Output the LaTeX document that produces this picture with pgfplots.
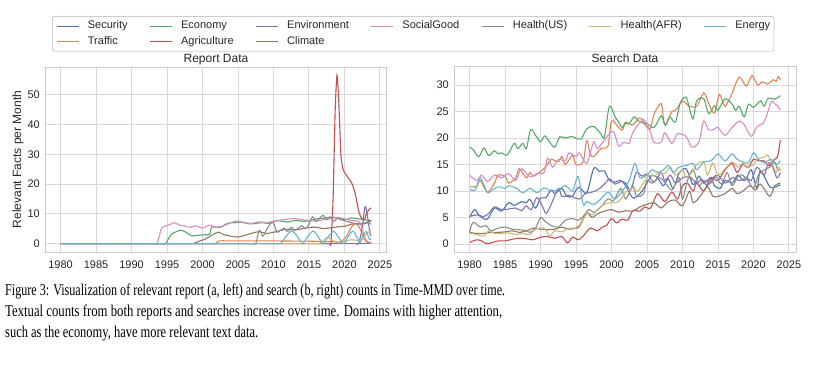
\documentclass[border=0pt]{standalone}
\usepackage{pgfplots}
\pgfplotsset{compat=1.18}
\usepackage{fontspec}
\setmainfont{Liberation Sans}
\newfontfamily\capfont{Liberation Serif}
\usepackage{graphicx}

\definecolor{cSec}{HTML}{4C72B0}
\definecolor{cTra}{HTML}{DD8452}
\definecolor{cEco}{HTML}{55A868}
\definecolor{cAgr}{HTML}{C44E52}
\definecolor{cEnv}{HTML}{8172B3}
\definecolor{cCli}{HTML}{937860}
\definecolor{cSoc}{HTML}{DA8BC3}
\definecolor{cHus}{HTML}{8C8C8C}
\definecolor{cHaf}{HTML}{CCB974}
\definecolor{cEne}{HTML}{64B5CD}
\definecolor{gridc}{HTML}{D9D9D9}
\definecolor{framec}{HTML}{CCCCCC}
\definecolor{tickc}{HTML}{262626}

\pgfplotsset{
  every axis title shift=0pt,
  common/.style={
    scale only axis, width=342pt, height=185pt,
    xmin=1977.8, xmax=2026.0,
    xtick={1980,1985,...,2025},
    grid=major,
    major grid style={color=gridc, line width=0.9pt},
    axis line style={color=framec, line width=1pt},
    major tick length=0pt,
    /pgf/number format/1000 sep={},
    /pgf/number format/assume math mode=true,
    tick label style={font=\fontsize{11}{13}\selectfont, text=tickc},
    xticklabel style={anchor=base, yshift=-16pt},
    yticklabel style={anchor=east, inner sep=0pt, xshift=-5pt},
    title style={at={(axis description cs:0.5,1)}, anchor=base, yshift=4.5pt, font=\fontsize{12}{14}\selectfont, text=tickc},
    every axis plot/.append style={line width=1.1pt, smooth},
  },
  limg/.style={legend image code/.code={\draw[#1, line width=1.1pt] (0pt,0pt) -- (22pt,0pt);}},
}

\begin{document}
\begin{tikzpicture}
\useasboundingbox (0pt,0pt) rectangle (832pt,-364pt);

% ---------------- Report Data ----------------
\begin{axis}[common,
  at={(45pt,-252pt)}, anchor=south west,
  ymin=-2.83, ymax=59.3, ytick={0,10,20,30,40,50},
  title={Report Data},
  ylabel={Relevant Facts per Month},
  ylabel style={at={(axis description cs:-0.079,0.5)}, anchor=center, font=\fontsize{12}{14}\selectfont, text=tickc},
  legend columns=7,
  legend cell align=left,
  legend style={at={(axis description cs:0.0205,1.2757)}, anchor=north west,
    draw=framec, line width=0.8pt, fill=white, rounded corners=2pt,
    inner xsep=3.7pt, inner ysep=4.5pt,
    font=\fontsize{11}{13}\selectfont, text=tickc,
    nodes={inner sep=0pt, text height=8pt, text depth=2.5pt},
    row sep=4.8pt,
    /tikz/every odd column/.append style={column sep=8.7pt},
    /tikz/every even column/.append style={column sep=21.7pt}},
]
\addlegendimage{legend image code/.code={\draw[cSec, line width=1.1pt] (0pt,0pt) -- (22pt,0pt);}}
\addlegendimage{legend image code/.code={\draw[cEco, line width=1.1pt] (0pt,0pt) -- (22pt,0pt);}}
\addlegendimage{legend image code/.code={\draw[cEnv, line width=1.1pt] (0pt,0pt) -- (22pt,0pt);}}
\addlegendimage{legend image code/.code={\draw[cSoc, line width=1.1pt] (0pt,0pt) -- (22pt,0pt);}}
\addlegendimage{legend image code/.code={\draw[cHus, line width=1.1pt] (0pt,0pt) -- (22pt,0pt);}}
\addlegendimage{legend image code/.code={\draw[cHaf, line width=1.1pt] (0pt,0pt) -- (22pt,0pt);}}
\addlegendimage{legend image code/.code={\draw[cEne, line width=1.1pt] (0pt,0pt) -- (22pt,0pt);}}
\addlegendimage{legend image code/.code={\draw[cTra, line width=1.1pt] (0pt,0pt) -- (22pt,0pt);}}
\addlegendimage{legend image code/.code={\draw[cAgr, line width=1.1pt] (0pt,0pt) -- (22pt,0pt);}}
\addlegendimage{legend image code/.code={\draw[cCli, line width=1.1pt] (0pt,0pt) -- (22pt,0pt);}}
\legend{Security,Economy,Environment,SocialGood,Health(US),Health(AFR),Energy,Traffic,Agriculture,Climate}

\addplot[cSec, forget plot] coordinates {(1980,0)(2000,0)(2023.8,0)};
\addplot[cTra, forget plot] coordinates {(1980,0)(2000,0)(2001.2,0)(2001.8,0)(2002.4,0.9)(2003.5,0.9)(2005,0.9)(2007,0.9)(2010,0.9)(2012.5,0.85)(2015,0.8)(2017,0.7)(2018.5,0.6)(2019.5,0.6)(2020.3,2.5)(2021,5.5)(2021.6,6.8)(2022.2,5)(2022.8,1.5)(2023.3,0.3)(2023.8,0.3)};
\addplot[cEco, forget plot] coordinates {(1980,0)(1993,0)(1994.2,0)(1994.8,0)(1995.5,2.8)(1996.2,3.9)(1997,4.5)(1997.8,3.6)(1998.5,2.6)(1999.5,2.8)(2000.5,3.0)(2001.0,3.1)(2001.3,5.5)(2002,5.5)(2002.7,5.6)(2003.5,6.8)(2004.5,7.0)(2005.5,7.2)(2006.5,6.6)(2007.5,6.8)(2008.5,7.0)(2009.3,6.8)(2010,7.5)(2011,7.6)(2012,7.2)(2013,7.8)(2014,7.5)(2015,7.6)(2016,8.3)(2017,8.5)(2018,8.8)(2019,8.6)(2020,8.0)(2021,8.6)(2022,8.3)(2023,7.9)(2023.8,7.8)};
\addplot[cAgr, forget plot, tension=0.35] coordinates {(1980,0)(2016,0)(2017.5,0)(2017.9,0)(2018.1,0)(2018.4,15)(2018.7,45)(2018.95,56.5)(2019.2,48)(2019.5,30)(2019.8,25)(2020.4,22.5)(2021.0,20.5)(2021.5,17)(2022.0,11)(2022.4,8.5)(2022.8,8.0)(2023.1,10)(2023.5,11.5)(2023.8,12)};
\addplot[cEnv, forget plot] coordinates {(1980,0)(2020,0)(2021.2,0)(2021.7,0)(2022.0,0)(2022.5,5)(2022.9,12.3)(2023.2,10)(2023.6,3.5)(2023.8,2.5)};
\addplot[cCli, forget plot] coordinates {(1980,0)(1996,0)(1997.5,0)(1998.1,0)(1998.7,0)(1999.5,0.8)(2000.4,1.5)(2001.3,2.8)(2002.2,3.8)(2003,3.0)(2004,2.5)(2005,2.2)(2006,2.8)(2007,3.5)(2008,4.0)(2009,3.4)(2010,3.8)(2011,4.4)(2012,4.8)(2013,4.5)(2014,5.0)(2015,5.4)(2016,5.5)(2017,5.0)(2018,5.3)(2019,5.6)(2020,5.8)(2021,6.5)(2022,6.8)(2022.8,6.6)(2023.3,7.3)(2023.8,7.5)};
\addplot[cSoc, forget plot] coordinates {(1980,0)(1991,0)(1992.4,0)(1993.0,0)(1993.6,0)(1994.2,5.0)(1994.7,5.8)(1995.5,6.5)(1996,7.0)(1996.8,6.2)(1997.5,5.9)(1998.3,5.4)(1999,6.0)(2000,5.2)(2001,6.2)(2002,5.5)(2003,6.0)(2004,7.0)(2005,7.6)(2006,7.0)(2007,6.8)(2008,7.3)(2009,7.0)(2010,7.5)(2011,7.9)(2012,8.2)(2013,8.4)(2014,8.0)(2015,7.8)(2016,7.5)(2017,8.0)(2018,8.3)(2019,8.8)(2020,8.3)(2021,7.7)(2022,7.5)(2022.5,5)(2023.0,1.2)(2023.4,0.5)(2023.8,0.5)};
\addplot[cHus, forget plot] coordinates {(1980,0)(2005,0)(2006.3,0)(2006.9,0)(2007.5,0)(2008,4.5)(2008.5,2.5)(2009,4.5)(2009.5,6.5)(2010,7.0)(2010.5,3.8)(2011,4.5)(2011.5,5.2)(2012,4.0)(2012.5,5.5)(2013,4.5)(2013.5,5.2)(2014,6.0)(2014.5,5.0)(2015,6.5)(2015.5,9.0)(2016,7.5)(2016.5,8.5)(2017,9.5)(2017.5,8.0)(2018,9.0)(2018.5,7.5)(2019,8.5)(2019.5,8.0)(2020.3,7.5)(2021,7)(2022,6.5)(2023,7)(2023.8,6.5)};
\addplot[cHaf, forget plot] coordinates {(1980,0)(2014,0)(2015.3,0)(2015.9,0)(2016.5,0)(2017.2,1.5)(2017.8,2.0)(2018.4,1.0)(2019.2,0.4)(2020,0.8)(2021,1.3)(2022,1.0)(2022.6,1.6)(2023.2,3.5)(2023.8,4.5)};
\addplot[cEne, forget plot] coordinates {(1980,0)(2008.5,0)(2009.8,0)(2010.4,0)(2011.0,0)(2011.8,2.5)(2012.6,4.2)(2013.4,2.3)(2014.1,0)(2014.8,2.3)(2015.6,4.2)(2016.3,2.3)(2017.0,0)(2017.7,2.3)(2018.5,4.1)(2019.2,2.0)(2019.9,0)(2020.5,2.2)(2021.2,4.2)(2021.8,2)(2022.2,0.3)(2022.6,2.5)(2023.1,4.0)(2023.5,1.5)(2023.8,1.6)};
\end{axis}

% ---------------- Search Data ----------------
\begin{axis}[common,
  at={(454pt,-252pt)}, anchor=south west,
  ymin=-1.5, ymax=33.4, ytick={0,5,10,15,20,25,30},
  title={Search Data},
]
\addplot[cSec] coordinates {(1980,5.0)(1980.7,6.5)(1981.5,5.2)(1982.5,4.7)(1983.5,6.8)(1984.5,6.2)(1985.5,7.8)(1986.3,7.3)(1987.3,8.0)(1988,7.8)(1988.5,8.4)(1989.3,6.8)(1990,8.7)(1990.7,8.7)(1991.5,10.2)(1992,9.5)(1993,10.5)(1993.7,9.0)(1994.5,9.0)(1995,10.2)(1995.5,10.7)(1996.5,9.7)(1997.5,14.3)(1998.3,13.7)(1999,13.8)(1999.7,12.0)(2000.5,11.7)(2001.3,12.0)(2002,11.0)(2003,8.7)(2004,9.5)(2005,11.5)(2005.7,13.0)(2006.5,12.5)(2007.3,11.0)(2008,12.3)(2008.7,10.5)(2009.5,13.3)(2010.5,14.2)(2011.5,11.2)(2012.3,12.8)(2013,11.5)(2014,12.5)(2014.5,11.0)(2015.3,10.5)(2016,12.0)(2017,11.5)(2017.8,13.0)(2018.5,12.0)(2019,12.3)(2019.7,14.0)(2020.5,10.5)(2021,13.8)(2022.3,10.8)(2023,10.7)(2023.8,11.2)};
\addplot[cTra] coordinates {(1980,10.8)(1981,10.9)(1981.5,12.0)(1982.5,9.8)(1983.5,11.5)(1984,13.0)(1985,12.8)(1985.5,11.5)(1986.5,12.5)(1987,14.2)(1988,12.5)(1988.5,13.5)(1989,12.8)(1990,13.7)(1991,15.0)(1991.5,16.0)(1992.5,15.5)(1993,16.5)(1993.5,15.0)(1994.5,16.7)(1995,15.0)(1996,15.5)(1996.5,19.5)(1997,17.0)(1997.5,16.5)(1998.5,18.0)(1999.5,18.5)(2000,23.2)(2001,22.0)(2001.5,21.5)(2002,22.8)(2003,22.5)(2004,23.8)(2005,22.0)(2005.5,21.8)(2006,24.5)(2007,26.5)(2007.5,22.5)(2008.5,25.0)(2009,25.2)(2010,27.0)(2010.5,26.5)(2011,26.0)(2012,26.0)(2013,28.5)(2013.7,26.5)(2014.5,24.7)(2015.2,28.2)(2016,26.0)(2017,28.5)(2018,31.5)(2019,29.8)(2019.8,31.8)(2020.6,30.0)(2021.2,30.6)(2022,30.2)(2022.8,31.0)(2023.2,30.7)(2023.5,31.6)(2023.8,31.0)};
\addplot[cEco] coordinates {(1980,18.3)(1980.5,17.8)(1981.3,16.5)(1982,18.1)(1982.7,16.7)(1983.5,17.6)(1984,17.0)(1984.5,17.2)(1985.3,16.8)(1986.3,19.0)(1986.8,18.0)(1987.5,19.0)(1988,18.0)(1988.6,21.6)(1989.3,20.5)(1990,19.3)(1990.6,20.4)(1991.3,19.2)(1992,18.3)(1992.7,20.2)(1993.5,20.0)(1994.3,20.3)(1995,20.0)(1995.7,19.8)(1996.5,21.7)(1997.5,22.2)(1998.5,20.8)(1999,20.2)(1999.7,26.0)(2000.5,24.0)(2001,23.0)(2001.5,22.0)(2002,23.0)(2002.5,22.7)(2003.2,24.0)(2004,23.0)(2005,22.7)(2006,22.0)(2007,24.2)(2007.6,22.4)(2008.2,24.0)(2009,23.0)(2009.7,26.7)(2010.5,27.7)(2011,25.5)(2011.5,23.6)(2012,27.0)(2013,27.4)(2013.7,24.6)(2014.5,26.1)(2015,25.2)(2016,27.4)(2017,26.4)(2017.5,25.2)(2018,26.0)(2018.7,24.0)(2019.3,26.4)(2020,25.8)(2021,27.0)(2021.5,26.0)(2022,27.4)(2022.5,27.5)(2023,27.3)(2023.4,27.6)(2023.8,28.0)};
\addplot[cAgr] coordinates {(1980,0.3)(1981,0.8)(1981.7,0.6)(1982.3,0.1)(1983.3,0.3)(1984,0.6)(1985,0.6)(1986,0.9)(1987,1.1)(1988,1.0)(1989,0.8)(1990,1.3)(1991,1.4)(1992,1.1)(1993,1.4)(1993.8,0.2)(1994.5,1.3)(1995.3,0.8)(1996,1.5)(1997,3.0)(1998,2.5)(1998.7,3.2)(1999.3,3.5)(2000,4.8)(2000.7,4.0)(2001.5,4.7)(2002.3,4.5)(2003,6.3)(2004,6.2)(2004.7,7.0)(2005.5,6.8)(2006.5,9.5)(2007.5,8.0)(2008.5,9.8)(2009.3,8.5)(2010,11.0)(2010.7,11.5)(2011.5,10.0)(2012,11.5)(2013,10.0)(2014,12.5)(2015,12.0)(2016,14.0)(2017,15.2)(2017.7,13.5)(2018.5,15.0)(2019.3,14.5)(2020,16.0)(2020.7,15.7)(2021.5,15.7)(2022.2,14.8)(2023,16.0)(2023.4,16.5)(2023.8,19.6)};
\addplot[cEnv] coordinates {(1980,5.2)(1981,5.5)(1982,5.2)(1982.7,5.8)(1983.5,7.0)(1984.5,6.5)(1985.5,6.6)(1986.5,6.8)(1987.3,6.3)(1988,7.2)(1988.7,6.5)(1989.5,8.8)(1990.3,7.0)(1990.8,5.8)(1991.5,7.5)(1992.5,10.5)(1993,9.0)(1994,9.2)(1994.7,8.8)(1995.5,8.5)(1996.3,9.5)(1997,9.7)(1998,10.2)(1999,11.3)(1999.7,12.3)(2000.5,11.3)(2001.3,11.8)(2002,11.5)(2002.7,10.2)(2003.5,13.5)(2004.3,12.8)(2005,13.2)(2006,11.7)(2007,13.5)(2007.5,12.0)(2008.3,13.0)(2009,11.5)(2010,12.5)(2011,12.7)(2012,11.5)(2012.7,12.2)(2013.5,11.0)(2014.3,12.5)(2015,13.0)(2016,11.5)(2017,12.5)(2018,12.0)(2019,12.5)(2019.7,12.0)(2020.5,14.5)(2021.5,13.0)(2022,15.0)(2022.5,15.2)(2023.3,12.5)(2023.8,13.5)};
\addplot[cCli] coordinates {(1980,2.2)(1981,2.0)(1982,2.0)(1983,2.2)(1984,2.2)(1985,2.3)(1986,2.5)(1987,2.2)(1988,2.5)(1989,3.0)(1990,2.8)(1991,2.7)(1992,2.8)(1993,3.2)(1994,2.8)(1995,3.0)(1995.5,3.5)(1996.5,5.8)(1997.3,5.0)(1998,5.7)(1999,6.2)(2000,6.5)(2001,6.0)(2002,6.3)(2003,6.2)(2004,7.0)(2005,7.5)(2006,7.8)(2007,6.8)(2008,8.0)(2009,8.3)(2010,7.2)(2011,10.0)(2011.5,7.8)(2012.5,9.0)(2013.5,10.8)(2014.3,9.0)(2015,9.0)(2016,9.5)(2017,10.5)(2017.7,9.5)(2018.5,10.0)(2019.5,11.0)(2020.3,10.2)(2021,11.3)(2022.3,9.0)(2023,11.0)(2023.8,11.5)};
\addplot[cSoc] coordinates {(1980,13.0)(1981,12.0)(1981.7,13.0)(1982.5,11.8)(1983.5,13.0)(1984.5,12.5)(1985.5,13.3)(1986.5,12.0)(1987.3,14.2)(1988.5,12.7)(1989.5,13.3)(1990.5,13.5)(1991,16.2)(1991.7,14.5)(1992.5,16.0)(1993.5,15.7)(1994,17.2)(1995,16.5)(1995.5,17.2)(1996.5,15.2)(1997.5,19.3)(1998,18.0)(1999.5,20.5)(2000.3,21.2)(2001,18.5)(2001.7,19.2)(2002.5,19.0)(2003,21.0)(2004.5,23.5)(2005.5,21.0)(2006,19.2)(2007,19.2)(2007.5,21.0)(2008.5,19.0)(2009.3,20.8)(2010.5,20.3)(2011.3,18.3)(2012.3,19.2)(2013,23.2)(2013.7,21.5)(2014.5,21.7)(2015,22.0)(2016,20.5)(2017,22.0)(2018,23.2)(2018.7,22.5)(2019.7,20.3)(2020.5,22.2)(2021.5,23.0)(2022.5,26.7)(2023,26.5)(2023.4,26.0)(2023.8,25.3)};
\addplot[cHus] coordinates {(1980,2.3)(1980.5,4.1)(1981.5,3.2)(1982.3,3.5)(1983,2.5)(1984,3.0)(1985,3.2)(1986,2.8)(1987,2.7)(1988,2.5)(1988.5,2.2)(1989.3,3.0)(1990,5.0)(1990.7,4.2)(1991.5,3.5)(1992.5,3.2)(1993.5,4.5)(1994.5,4.8)(1995.3,4.5)(1996,5.2)(1996.8,6.5)(1997.5,6.0)(1998.5,7.0)(1999.5,8.5)(2000.3,8.2)(2001.3,10.5)(2002,8.5)(2003,11.0)(2003.5,9.0)(2004.5,9.5)(2005,12.0)(2005.7,11.5)(2006.7,12.5)(2007.3,12.0)(2008.5,10.2)(2009.5,12.5)(2010,8.5)(2010.7,12.0)(2011.5,14.0)(2012.3,11.0)(2013,12.0)(2014,11.5)(2014.7,12.7)(2015.5,11.3)(2016.3,13.5)(2017,11.0)(2018,13.0)(2019,12.5)(2020,10.5)(2020.7,13.0)(2021.5,14.0)(2022.3,14.5)(2023,15.5)(2023.4,14.0)(2023.8,14.0)};
\addplot[cHaf] coordinates {(1980,2.0)(1981,1.8)(1982,1.5)(1982.7,2.5)(1983.5,2.0)(1984.5,2.0)(1985.5,2.1)(1986.5,1.8)(1987.5,2.0)(1988.5,1.8)(1989.3,2.8)(1990.5,3.0)(1991.3,1.5)(1992,2.5)(1993,2.3)(1994,3.0)(1995,3.0)(1995.5,3.2)(1996.5,5.8)(1997.3,5.5)(1998,6.5)(1999,7.5)(2000,7.8)(2001,8.0)(2002,9.8)(2003,10.5)(2003.7,10.0)(2004.5,11.5)(2005.3,13.0)(2006,12.8)(2006.8,13.5)(2007.5,13.3)(2008.3,14.5)(2009,13.0)(2010,14.0)(2010.5,12.5)(2011.3,13.5)(2012,15.0)(2013,15.5)(2013.5,13.0)(2014.3,15.3)(2015,13.0)(2016,14.2)(2017,15.5)(2017.8,14.5)(2018.5,15.3)(2019,14.5)(2020,15.0)(2020.7,16.2)(2021.5,16.3)(2022,16.8)(2022.7,15.0)(2023.2,13.5)(2023.5,14.5)(2023.8,14.0)};
\addplot[cEne] coordinates {(1980,10.3)(1980.8,10.2)(1981.5,12.5)(1982.5,9.7)(1983,10.0)(1984,10.8)(1985,10.5)(1985.5,11.0)(1986.5,10.6)(1987.5,9.7)(1988.5,10.5)(1989.5,9.7)(1990.5,10.6)(1991.5,10.0)(1992.5,10.3)(1993.5,11.0)(1994.5,10.0)(1995.3,12.7)(1996,7.5)(1996.5,8.0)(1997.5,7.5)(1998.5,8.5)(1999.5,9.8)(2000.5,8.5)(2001.5,10.0)(2002.5,12.0)(2003.3,15.2)(2004,12.5)(2005,13.0)(2005.7,14.0)(2006.5,13.5)(2007.3,14.0)(2008,14.8)(2008.7,13.5)(2009.5,14.5)(2010.5,14.8)(2011.5,15.2)(2012,14.0)(2013,15.5)(2014,15.7)(2015,17.0)(2016,15.7)(2017,17.0)(2017.7,16.0)(2018.5,15.5)(2019.3,15.3)(2020,17.2)(2020.7,16.0)(2021.5,15.3)(2022.5,16.0)(2023.2,15.0)(2023.8,15.7)};
\end{axis}

% ---------------- Caption ----------------
\node[anchor=base west, inner sep=0pt] at (5pt,-295pt) {\resizebox{500pt}{\height}{\capfont\fontsize{16.5}{20}\selectfont Figure 3: Visualization of relevant report (a, left) and search (b, right) counts in Time-MMD over time.}};
\node[anchor=base west, inner sep=0pt] at (5pt,-316.5pt) {\resizebox{497pt}{\height}{\capfont\fontsize{16.5}{20}\selectfont Textual counts from both reports and searches increase over time. Domains with higher attention,}};
\node[anchor=base west, inner sep=0pt] at (5pt,-337.5pt) {\resizebox{253pt}{\height}{\capfont\fontsize{16.5}{20}\selectfont such as the economy, have more relevant text data.}};
\end{tikzpicture}
\end{document}
